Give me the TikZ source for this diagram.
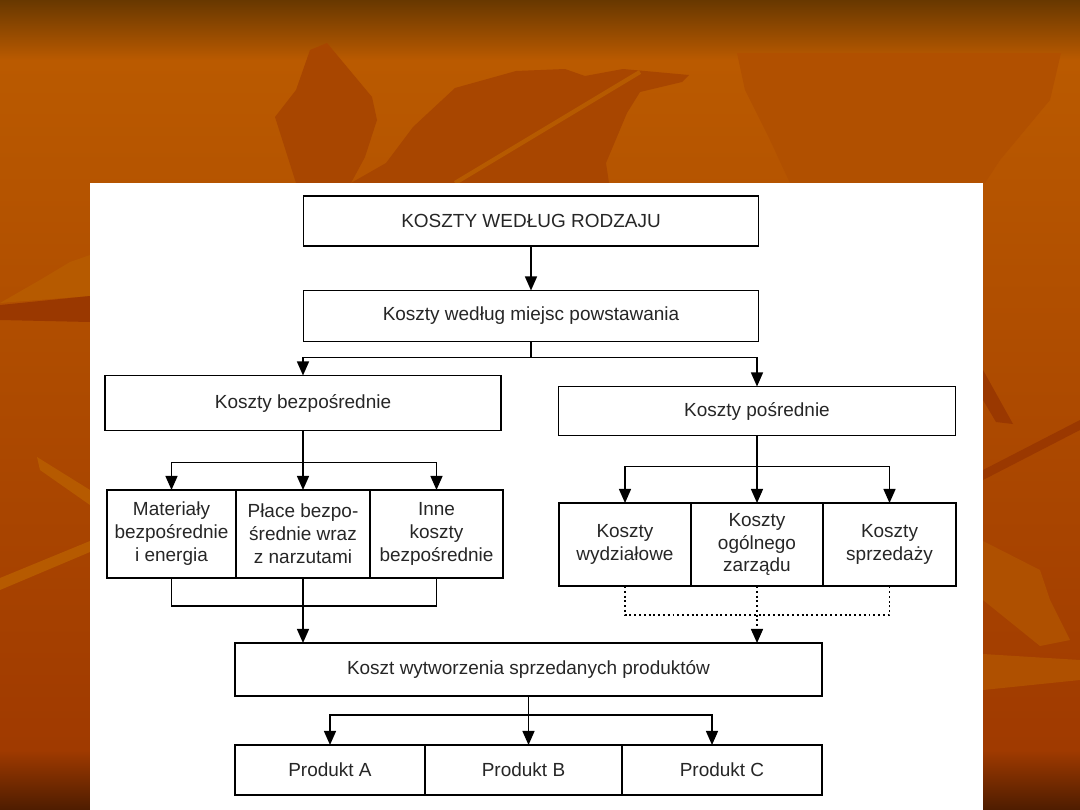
\documentclass[tikz,border=0pt]{standalone}
\usepackage{fontspec}
\setmainfont{Liberation Sans}
\usetikzlibrary{positioning, arrows.meta, calc}

\definecolor{tloGora}{RGB}{104,56,0}
\definecolor{tlo}{RGB}{186,90,0}
\definecolor{tloNiz}{RGB}{160,58,0}
\definecolor{tloDol}{RGB}{78,28,0}
\definecolor{lisc}{RGB}{168,70,0}
\definecolor{liscCiemny}{RGB}{154,56,0}
\definecolor{liscJasny}{RGB}{182,90,0}

\def\px{0.025cm}

\begin{document}
\begin{tikzpicture}[x=0.025cm, y=-0.025cm, >={Triangle[length=10pt,width=8.5pt]},
    font=\fontsize{13.5}{16.3}\selectfont,
    box/.style={draw, line width=1.3pt, align=center, inner sep=0pt, outer sep=0pt, text=black!85},
    wd/.style={minimum width=#1*\px},
    ht/.style={minimum height=#1*\px},
    linia/.style={line width=1.2pt},
    kropki/.style={line width=1.3pt, dash pattern=on 1.4pt off 2pt}]

    \useasboundingbox (0,0) rectangle (1080,810);

    % --- Tlo slajdu ---
    \fill[tlo] (0,0) rectangle (1080,810);
    \shade[top color=tloGora, bottom color=tlo] (0,0) rectangle (1080,60);
    \shade[top color=tlo, bottom color=tloNiz] (0,60) rectangle (1080,750);
    \shade[top color=tloNiz, bottom color=tloDol] (0,750) rectangle (1080,810);

    % Liscie w tle
    \fill[lisc] (310,50) -- (327,43) -- (372,97) -- (377,120) -- (365,157) -- (351,183)
        -- (296,183) -- (275,117) -- (296,90) -- cycle;
    \fill[lisc] (455,88) -- (516,71) -- (565,69) -- (585,76) -- (623,69) -- (689,75)
        -- (682,82) -- (640,92) -- (627,113) -- (606,163) -- (609,183) -- (351,183)
        -- (386,163) -- (413,127) -- cycle;
    \draw[liscJasny, line width=3pt] (640,72) -- (455,183);
    \fill[lisc!50!tlo] (737,53) -- (1061,53) -- (1050,100) -- (1000,160) -- (985,183)
        -- (790,183) -- (770,140) -- (745,90) -- cycle;
    \fill[liscJasny] (40,280) -- (70,262) -- (90,255) -- (90,296) -- (0,303) -- cycle;
    \fill[liscCiemny] (0,305) -- (90,296) -- (90,322) -- (0,320) -- cycle;
    \fill[liscJasny] (37,457) -- (90,490) -- (90,505) -- (40,470) -- cycle;
    \fill[liscJasny] (0,578) -- (90,541) -- (90,552) -- (0,590) -- cycle;
    \fill[liscCiemny] (983,370) -- (1013,424) -- (996,422) -- (983,400) -- cycle;
    \fill[liscCiemny] (983,470) -- (1080,420) -- (1080,430) -- (983,480) -- cycle;
    \fill[liscJasny!70!tloNiz] (983,541) -- (1040,570) -- (1050,600) -- (1070,640) -- (1040,646)
        -- (983,600) -- cycle;
    \fill[liscJasny!70!tloNiz] (983,654) -- (1080,660) -- (1080,680) -- (983,690) -- cycle;

    % Biale pole
    \fill[white] (90,183) rectangle (983,810);

    % --- Bloki ---
    \node[box, wd=455, ht=50] (rodzaj) at (531,221) {KOSZTY WEDŁUG RODZAJU};
    \node[box, wd=455, ht=51] (miejsca) at (531,316) {Koszty według miejsc powstawania};
    \node[box, wd=396, ht=55] (bezp) at (303,403) {Koszty bezpośrednie};
    \node[box, wd=397, ht=49] (posr) at (757,411) {Koszty pośrednie};

    % Koszty bezposrednie - skladniki
    \node[box, wd=129, ht=88] (mat) at (171.5,534) {Materiały\\bezpośrednie\\i energia};
    \node[box, wd=134, ht=88, right=0pt of mat] (place) {Płace bezpo-\\średnie wraz\\z narzutami};
    \node[box, wd=133, ht=88, right=0pt of place] (inne) {Inne\\koszty\\bezpośrednie};

    % Koszty posrednie - skladniki
    \node[box, wd=132, ht=83] (wydz) at (625,544.5) {Koszty\\wydziałowe};
    \node[box, wd=132, ht=83, right=0pt of wydz] (ogol) {Koszty\\ogólnego\\zarządu};
    \node[box, wd=133, ht=83, right=0pt of ogol] (sprz) {Koszty\\sprzedaży};

    \node[box, wd=587, ht=53] (wytw) at (528.5,669.5) {Koszt wytworzenia sprzedanych produktów};

    % Produkty
    \node[box, wd=190, ht=50] (prodA) at (330,770) {Produkt A};
    \node[box, wd=197, ht=50, right=0pt of prodA] (prodB) {Produkt B};
    \node[box, wd=200, ht=50, right=0pt of prodB] (prodC) {Produkt C};

    % --- Polaczenia ---
    \draw[linia, ->] (rodzaj) -- (miejsca);

    \draw[linia] (miejsca.south) -- ++(0,16) coordinate (rozw1);
    \draw[linia, ->] (rozw1) -| (bezp.north);
    \draw[linia, ->] (rozw1) -| (posr.north);

    \draw[linia] (bezp.south) -- ++(0,32) coordinate (rozw2);
    \draw[linia, ->] (rozw2) -| (mat.north);
    \draw[linia, ->] (rozw2) -- (place.north);
    \draw[linia, ->] (rozw2) -| (inne.north);

    \draw[linia] (mat.south) -- ++(0,28) -| (inne.south);
    \draw[linia, ->] (place.south) -- (place.south |- wytw.north);

    \draw[linia] (posr.south) -- ++(0,31) coordinate (rozw3);
    \draw[linia, ->] (rozw3) -| (wydz.north);
    \draw[linia, ->] (rozw3) -- (ogol.north);
    \draw[linia, ->] (rozw3) -| (sprz.north);

    % Rozliczenie kosztow posrednich (kropkowane)
    \draw[kropki] (wydz.south) -- ++(0,29) -| (sprz.south);
    \draw[kropki, ->] (ogol.south) -- (ogol.south |- wytw.north);

    \draw[linia] (wytw.south) -- ++(0,19) coordinate (rozw4);
    \draw[linia, ->] (rozw4) -| (prodA.north);
    \draw[linia, ->] (rozw4) -- (rozw4 |- prodB.north);
    \draw[linia, ->] (rozw4) -| ($(prodC.north)+(-10,0)$);

\end{tikzpicture}
\end{document}
